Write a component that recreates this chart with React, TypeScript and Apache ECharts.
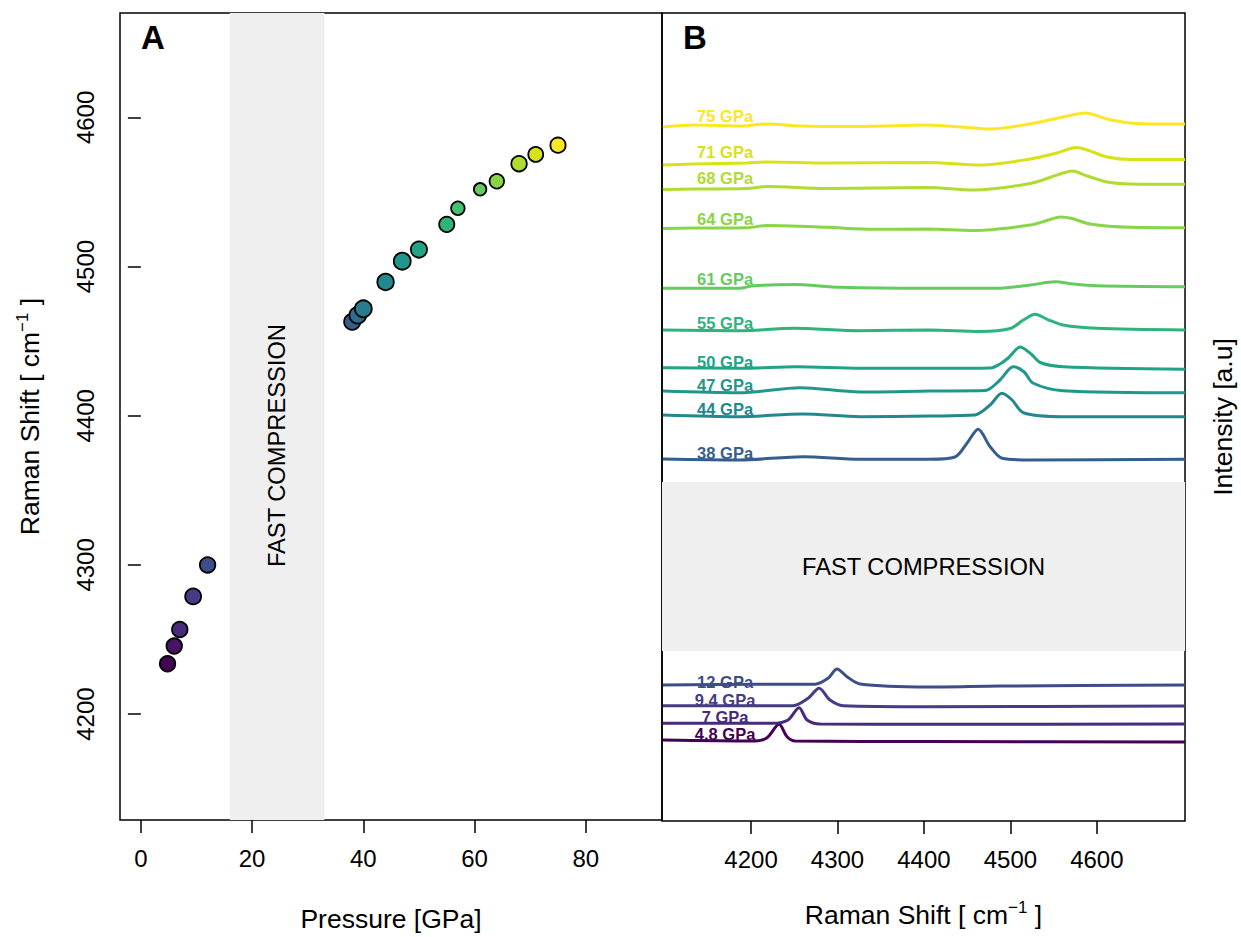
import React, { useEffect, useRef } from 'react';
import * as echarts from 'echarts';

const FONT = '"Liberation Sans", Arial, Helvetica, sans-serif';

// ---- Panel A: peak position vs pressure ----
const pressureGPa = [4.8, 6, 7, 9.4, 12, 38, 39, 40, 44, 47, 50, 55, 57, 61, 64, 68, 71, 75];
const ramanShift = [4233.7, 4245.6, 4256.7, 4278.9, 4300, 4463, 4467.4, 4471.7, 4489.7, 4503.6, 4511.4, 4528.3, 4539.1, 4551.8, 4557.2, 4569, 4575.2, 4581.4];
const markerSize = [17.3, 17.3, 17.3, 17.7, 17.3, 18, 18.5, 18.7, 18.3, 18.7, 18, 17, 15.3, 14.3, 16.3, 17.3, 16.7, 17];
const viridis18 = ['#440154', '#471365', '#472A7A', '#443C84', '#3D4D8A', '#355E8D', '#2E6D8E', '#297B8E', '#23888E', '#1F978B', '#20A486', '#2EB37C', '#46C06F', '#65CB5E', '#89D548', '#AEDC30', '#D8E219', '#FDE725'];

const xTicksA = [0, 20, 40, 60, 80];
const yTicksA = [4200, 4300, 4400, 4500, 4600];
const xTicksB = [4200, 4300, 4400, 4500, 4600];

const fastCompressionGPa = [16, 33];
const fastCompressionIntensity = [170, 339];

// ---- Panel B: stacked spectra [Raman shift, intensity (a.u., offset)] ----
const spec4_8 = [[4098, 81], [4205, 80], [4218.5, 83.3], [4232.4, 96.7], [4241.7, 84.3], [4251, 80], [4404, 79.5], [4702, 79]];
const spec7 = [[4098, 97.7], [4225.5, 97.7], [4242.8, 101], [4255.6, 113.3], [4264.8, 101], [4280, 97], [4404, 96.7], [4702, 97]];
const spec9_4 = [[4098, 115.3], [4248.6, 115.3], [4266, 122.7], [4278.7, 132.7], [4291.4, 121], [4306.5, 115.3], [4404, 114.3], [4702, 115]];
const spec12 = [[4098, 136], [4210, 136.7], [4274, 136.7], [4289, 142.7], [4299.5, 152], [4311, 144.3], [4326, 137], [4404, 134], [4488, 135], [4702, 136]];
const spec38 = [[4098, 362], [4187, 361], [4260, 364.3], [4326, 361.7], [4407, 361.7], [4436, 364], [4450, 378], [4462.7, 391.7], [4476.6, 374.3], [4490.5, 362.7], [4523, 361], [4702, 361.7]];
const spec44 = [[4098, 406], [4187, 404.3], [4260, 407], [4326, 404.3], [4407, 405], [4459, 406], [4476.6, 416], [4490.2, 427.7], [4502, 421], [4515, 408.3], [4561, 404.3], [4702, 404.3]];
const spec47 = [[4098, 430], [4187, 428.3], [4257, 433.3], [4326, 429], [4407, 430], [4471, 430.5], [4488, 441], [4503.2, 454.3], [4516, 449], [4526, 438], [4561, 430.3], [4702, 428.3]];
const spec50 = [[4098, 453.3], [4187, 452.7], [4253, 454.3], [4326, 452.7], [4407, 452.7], [4477, 453], [4488, 457], [4497.5, 463], [4511.3, 474], [4524, 467], [4534.5, 458.5], [4561, 454.3], [4702, 451.7]];
const spec55 = [[4098, 491], [4187, 490.3], [4249, 492.7], [4326, 490.3], [4407, 491], [4465, 489.5], [4500, 492.5], [4515, 501], [4528.7, 506.7], [4542.6, 501.7], [4561, 496], [4600, 492.7], [4702, 491]];
const spec61 = [[4098, 532.7], [4140, 532.7], [4187, 532.7], [4201, 535], [4249, 536.5], [4303, 533.7], [4404, 532.7], [4485, 532.7], [4523, 536], [4551.8, 539.3], [4573, 537], [4600, 535.3], [4702, 534.3]];
const spec64 = [[4098, 592.5], [4133, 593], [4195, 593.3], [4218.5, 595.5], [4288, 593.7], [4341, 591.7], [4404, 592], [4457, 590.5], [4523, 596], [4544, 601], [4557.6, 604], [4571.5, 602.5], [4592, 597], [4639, 593.7], [4702, 593.3]];
const spec68 = [[4098, 631.5], [4133, 632], [4195, 632.5], [4218.5, 634.5], [4288, 632.5], [4404, 633.5], [4457, 631], [4523, 637.5], [4554, 646], [4571.5, 650], [4589, 645], [4612, 639], [4639, 637], [4702, 636.7]];
const spec71 = [[4098, 656], [4133, 657], [4195, 658], [4218.5, 659], [4288, 658], [4404, 658.5], [4465, 656], [4523, 662], [4554, 668], [4576, 673.5], [4589, 671], [4612, 664], [4639, 661.5], [4702, 661.5]];
const spec75 = [[4098, 694], [4133, 696], [4193, 695], [4201, 696], [4218.5, 697], [4257, 695], [4326, 694.5], [4402.5, 696], [4442, 694], [4477, 692], [4523, 697], [4561, 704], [4586.6, 708], [4612, 702], [4639, 698], [4673, 697], [4702, 697]];

const spectra = [spec4_8, spec7, spec9_4, spec12, spec38, spec44, spec47, spec50, spec55, spec61, spec64, spec68, spec71, spec75];
const spectrumLabels = ['4.8 GPa', '7 GPa', '9.4 GPa', '12 GPa', '38 GPa', '44 GPa', '47 GPa', '50 GPa', '55 GPa', '61 GPa', '64 GPa', '68 GPa', '71 GPa', '75 GPa'];
const spectrumColors = ['#440154', '#472A7A', '#443C84', '#3D4D8A', '#355E8D', '#23888E', '#1F978B', '#20A486', '#2EB37C', '#65CB5E', '#89D548', '#AEDC30', '#D8E219', '#FDE725'];
const labelShift = 4170;
const labelLevel = [87.5, 104.2, 121.2, 139.3, 368.5, 412, 436, 459, 498.5, 542.5, 602, 643.5, 669.5, 705];

export default function App() {
  const ref = useRef<HTMLDivElement>(null);

  useEffect(() => {
    if (!ref.current) return;
    const chart = echarts.init(ref.current, undefined, { renderer: 'svg' });

    const tickStyle = { show: true, length: 13, lineStyle: { color: '#000', width: 1.5 } };
    const labelStyle = { color: '#000', fontSize: 24, fontFamily: FONT, formatter: (v: number) => String(v) };
    const TITLE = 26.5;
    const richTitle = {
      n: { fontSize: TITLE, fontFamily: FONT, color: '#000', lineHeight: 32 },
      s: { fontSize: 17, fontFamily: FONT, color: '#000', verticalAlign: 'top', lineHeight: 17 },
    };

    const option: any = {
      animation: false,
      backgroundColor: '#fff',
      textStyle: { fontFamily: FONT },
      grid: [
        { left: 120, top: 13, width: 542, height: 808, show: true, borderColor: '#000', borderWidth: 1.5, backgroundColor: 'transparent' },
        { left: 662, top: 13, width: 523, height: 808, show: true, borderColor: '#000', borderWidth: 1.5, backgroundColor: 'transparent' },
      ],
      xAxis: [
        {
          gridIndex: 0, type: 'value', min: -3.75, max: 93.7,
          axisLine: { show: false }, splitLine: { show: false },
          axisTick: { ...tickStyle, customValues: xTicksA },
          axisLabel: { ...labelStyle, margin: 26, customValues: xTicksA },
          name: 'Pressure [GPa]', nameLocation: 'middle', nameGap: 85,
          nameTextStyle: { color: '#000', fontSize: TITLE, fontFamily: FONT },
        },
        {
          gridIndex: 1, type: 'value', min: 4097, max: 4702,
          axisLine: { show: false }, splitLine: { show: false },
          axisTick: { ...tickStyle, customValues: xTicksB },
          axisLabel: { ...labelStyle, margin: 26, customValues: xTicksB },
          name: '{n|Raman Shift [ cm}{s|−1}{n| ]}', nameLocation: 'middle', nameGap: 78,
          nameTextStyle: { color: '#000', fontSize: TITLE, fontFamily: FONT, rich: richTitle },
        },
      ],
      yAxis: [
        {
          gridIndex: 0, type: 'value', min: 4129, max: 4670,
          axisLine: { show: false }, splitLine: { show: false },
          axisTick: { ...tickStyle, customValues: yTicksA },
          axisLabel: { ...labelStyle, margin: 23, rotate: 90, customValues: yTicksA },
          name: '{n|Raman Shift [ cm}{s|−1}{n| ]}', nameLocation: 'middle', nameGap: 74, nameRotate: 90,
          nameTextStyle: { color: '#000', fontSize: TITLE, fontFamily: FONT, rich: richTitle },
        },
        {
          gridIndex: 1, type: 'value', min: 0, max: 808, position: 'right',
          axisLine: { show: false }, splitLine: { show: false }, axisTick: { show: false }, axisLabel: { show: false },
          name: 'Intensity [a.u]', nameLocation: 'middle', nameGap: 24, nameRotate: 90,
          nameTextStyle: { color: '#000', fontSize: TITLE, fontFamily: FONT },
        },
      ],
      graphic: [
        { type: 'text', left: 141, top: 21, style: { text: 'A', font: `bold 33px ${FONT}`, fill: '#000' } },
        { type: 'text', left: 683, top: 21, style: { text: 'B', font: `bold 33px ${FONT}`, fill: '#000' } },
      ],
      series: [
        // Panel A: fast compression band + label
        {
          type: 'scatter', xAxisIndex: 0, yAxisIndex: 0, z: 1, silent: true,
          symbolSize: 1, itemStyle: { color: 'rgba(0,0,0,0)', opacity: 1 },
          data: [[(fastCompressionGPa[0] + fastCompressionGPa[1]) / 2, 4380]],
          label: { show: true, position: 'inside', rotate: 90, formatter: 'FAST COMPRESSION', color: '#000', fontSize: 23.7, fontFamily: FONT },
          markArea: {
            silent: true, itemStyle: { color: '#efefef' },
            data: [[{ xAxis: fastCompressionGPa[0] }, { xAxis: fastCompressionGPa[1] }]],
          },
        },
        // Panel A: points
        {
          type: 'scatter', xAxisIndex: 0, yAxisIndex: 0, z: 3,
          data: pressureGPa.map((p, i) => ({
            value: [p, ramanShift[i]],
            symbolSize: markerSize[i] - 1.8,
            itemStyle: { color: viridis18[i], borderColor: '#000', borderWidth: 1.8, opacity: 1 },
          })),
        },
        // Panel B: fast compression band
        {
          type: 'line', xAxisIndex: 1, yAxisIndex: 1, z: 1, data: [],
          markArea: {
            silent: true, itemStyle: { color: '#efefef' },
            label: { show: true, position: 'inside', formatter: 'FAST COMPRESSION', color: '#000', fontSize: 23.7, fontFamily: FONT },
            data: [[{ yAxis: fastCompressionIntensity[0] }, { yAxis: fastCompressionIntensity[1] }]],
          },
        },
        // Panel B: spectra
        ...spectra.map((d, i) => ({
          type: 'line', xAxisIndex: 1, yAxisIndex: 1, z: 3,
          name: spectrumLabels[i], data: d, showSymbol: false, smooth: 0.3,
          lineStyle: { color: spectrumColors[i], width: 3 },
          itemStyle: { color: spectrumColors[i] },
        })),
        // Panel B: spectrum labels
        {
          type: 'scatter', xAxisIndex: 1, yAxisIndex: 1, z: 5, silent: true,
          symbolSize: 1, itemStyle: { color: 'rgba(0,0,0,0)', opacity: 1 },
          label: { show: true, position: 'inside', fontSize: 16.5, lineHeight: 15, fontWeight: 'bold', fontFamily: FONT },
          data: spectrumLabels.map((t, i) => ({
            value: [labelShift, labelLevel[i]],
            label: { formatter: t, color: spectrumColors[i] },
          })),
        },
      ],
    };

    chart.setOption(option);
    return () => chart.dispose();
  }, []);

  return (
    <div
      ref={ref}
      style={{ position: 'fixed', left: 0, top: 0, width: 1241, height: 937, background: '#fff' }}
    />
  );
}
